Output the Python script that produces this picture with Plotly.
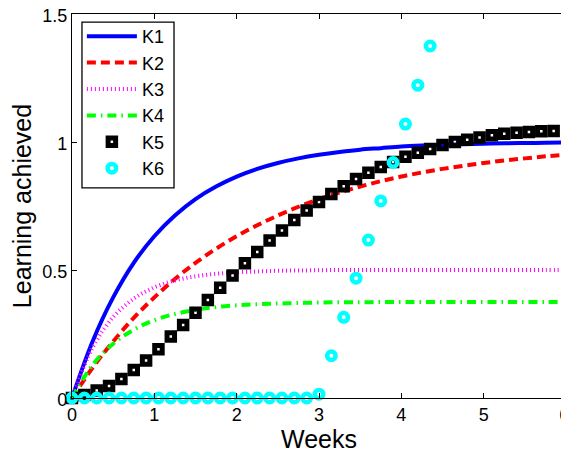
import plotly.graph_objects as go

# ---- data ----
t_line = [0, 0.25, 0.5, 0.75, 1, 1.25, 1.5, 1.75, 2, 2.25, 2.5, 2.75, 3,
          3.25, 3.5, 3.75, 4, 4.25, 4.5, 4.75, 5, 5.25, 5.5, 5.75, 6]
k1 = [0, .221, .393, .528, .632, .713, .777, .826, .865, .895, .918, .936, .950,
      .961, .970, .976, .982, .986, .989, .991, .993, .995, .996, .997, .998]
k2 = [0, .118, .221, .313, .393, .465, .528, .583, .632, .675, .713, .747, .777,
      .803, .826, .847, .865, .881, .895, .907, .918, .928, .936, .944, .950]
k3 = [0, .197, .316, .388, .432, .459, .475, .485, .491, .494, .497, .498, .499,
      .5, .5, .5, .5, .5, .5, .5, .5, .5, .5, .5, .5]
k4 = [0, .129, .212, .267, .304, .328, .344, .355, .362, .366, .369, .371, .373,
      .374, .374, .375, .375, .375, .375, .375, .375, .375, .375, .375, .375]

t_k5 = [round(0.15 * i, 2) for i in range(40)]
k5 = [0, 0.012, 0.029, 0.047, 0.074, 0.109, 0.146, 0.19, 0.24, 0.285,
      0.333, 0.383, 0.431, 0.479, 0.526, 0.570, 0.615, 0.654, 0.695, 0.732,
      0.766, 0.797, 0.827, 0.855, 0.880, 0.902, 0.922, 0.942, 0.958, 0.973,
      0.988, 1.000, 1.009, 1.018, 1.026, 1.032, 1.036, 1.039, 1.042, 1.043]

t_k6 = [round(0.15 * i, 2) for i in range(30)]
k6 = [0] * 20 + [0.015, 0.165, 0.315, 0.468, 0.617, 0.770, 0.920, 1.070, 1.222, 1.375]

x_ticks = [0, 1, 2, 3, 4, 5, 6]
x_ticklabels = ["0", "1", "2", "3", "4", "5", "6\u2009"]
y_ticks = [0, 0.5, 1, 1.5]
y_ticklabels = ["0", "0.5", "1", "1.5"]

FONT = "Liberation Sans, Arial, sans-serif"

fig = go.Figure()
fig.add_trace(go.Scatter(x=t_line, y=k1, name="K1", mode="lines", legendgroup="1",
                         line=dict(color="#0000ff", width=4, shape="spline")))
fig.add_trace(go.Scatter(x=t_line, y=k2, name="K2", mode="lines", legendgroup="2",
                         line=dict(color="#ff0000", width=4, dash="9px,5px", shape="spline")))
fig.add_trace(go.Scatter(x=t_line, y=k3, name="K3", mode="lines", legendgroup="3",
                         line=dict(color="#ff00ff", width=4, dash="1px,3px", shape="spline")))
fig.add_trace(go.Scatter(x=t_line, y=k4, name="K4", mode="lines", legendgroup="4",
                         line=dict(color="#00ff00", width=4, dash="9px,5px,1.5px,5px", shape="spline")))
fig.add_trace(go.Scatter(x=t_k5, y=k5, name="K5", mode="markers", legendgroup="5",
                         cliponaxis=False,
                         marker=dict(symbol="square-open", size=7.5, color="#000000",
                                     line=dict(color="#000000", width=5))))
fig.add_trace(go.Scatter(x=t_k6, y=k6, name="K6", mode="markers", legendgroup="6",
                         cliponaxis=False,
                         marker=dict(symbol="circle-open", size=8.5, color="#00ffff",
                                     line=dict(color="#00ffff", width=4.5))))

axis_common = dict(showline=True, linecolor="black", linewidth=1.3, mirror="allticks",
                   ticks="inside", ticklen=5, tickcolor="black", tickwidth=1,
                   showgrid=False, zeroline=False, automargin=False,
                   ticklabeloverflow="allow",
                   tickfont=dict(family=FONT, size=18, color="black"))

# legend frame drawn as a shape so its size matches the reference box
fig.add_shape(type="rect", xref="paper", yref="paper",
              x0=0.0202, x1=0.2065, y0=0.547, y1=0.979,
              line=dict(color="black", width=1.3), fillcolor="white", layer="above")

# page body adds an 8px offset; the figure overflows the window by that amount
fig.update_layout(
    width=569, height=453,
    margin=dict(l=64, r=11, t=6, b=63),
    paper_bgcolor="white", plot_bgcolor="white",
    font=dict(family=FONT, color="black"),
    xaxis=dict(range=[0, 6], tickvals=x_ticks, ticktext=x_ticklabels,
               title=dict(text="Weeks", font=dict(family=FONT, size=25), standoff=0),
               **axis_common),
    yaxis=dict(range=[0, 1.5], tickvals=y_ticks, ticktext=y_ticklabels,
               ticklabelshift=2,
               title=dict(text="Learning achieved", font=dict(family=FONT, size=25), standoff=16),
               **axis_common),
    legend=dict(x=0.02, y=0.9896, xanchor="left", yanchor="top",
                bgcolor="rgba(0,0,0,0)", borderwidth=0,
                font=dict(family=FONT, size=18, color="black"),
                traceorder="normal", tracegroupgap=0, itemwidth=50),
    showlegend=True,
)

fig.write_html("out.html")
